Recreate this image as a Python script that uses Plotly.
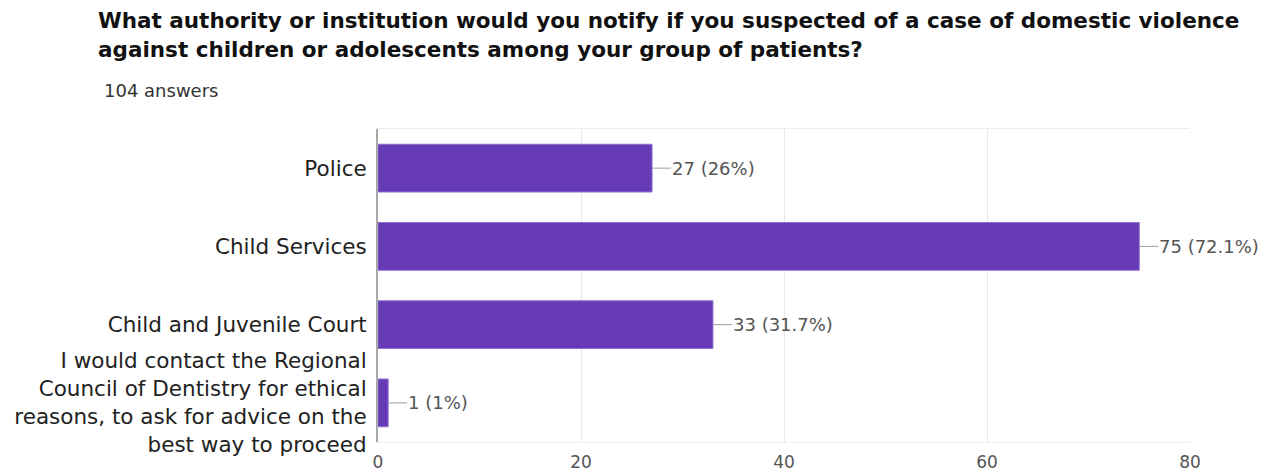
import plotly.graph_objects as go

categories = [
    "Police",
    "Child Services",
    "Child and Juvenile Court",
    "I would contact the Regional<br>Council of Dentistry for ethical<br>reasons, to ask for advice on the<br>best way to proceed",
]
counts = [27, 75, 33, 1]
total_answers = 104
x_ticks = [0, 20, 40, 60, 80]
title_lines = [
    "What authority or institution would you notify if you suspected of a case of domestic violence",
    "against children or adolescents among your group of patients?",
]
subtitle = f"{total_answers} answers"

labels = [f"{c} ({round(c / total_answers * 100, 1):g}%)" for c in counts]

W, H = 1268, 472
L, R, T, B = 378, 78, 129, 30
pw, ph = W - L - R, H - T - B

def px_x(px):
    return (px - L) / pw

def px_y(py):
    return (H - B - py) / ph

FONT = "DejaVu Sans, sans-serif"

fig = go.Figure(
    go.Bar(
        x=counts,
        y=categories,
        orientation="h",
        marker=dict(color="#673ab7", line=dict(color="#8f6fd0", width=1)),
        width=0.61,
        hoverinfo="skip",
    )
)

annotations = []
for c, cat, lab in zip(counts, categories, labels):
    annotations.append(
        dict(
            x=c, y=cat, xref="x", yref="y",
            text=lab, showarrow=True, arrowhead=0, arrowwidth=1,
            arrowcolor="#9e9e9e", ax=19, ay=0, xanchor="left",
            font=dict(family=FONT, size=18, color="#555555"),
            borderpad=0,
        )
    )

annotations.append(dict(
    x=px_x(96), y=px_y(21), xref="paper", yref="paper", text=f"<b>{title_lines[0]}</b>",
    showarrow=False, xanchor="left", yanchor="middle",
    font=dict(family=FONT, size=21.5, color="#111111"),
))
annotations.append(dict(
    x=px_x(96), y=px_y(50), xref="paper", yref="paper", text=f"<b>{title_lines[1]}</b>",
    showarrow=False, xanchor="left", yanchor="middle",
    font=dict(family=FONT, size=21.5, color="#111111"),
))
annotations.append(dict(
    x=px_x(102), y=px_y(90), xref="paper", yref="paper", text=subtitle,
    showarrow=False, xanchor="left", yanchor="middle",
    font=dict(family=FONT, size=18, color="#333333"),
))

fig.update_layout(
    width=W, height=H,
    margin=dict(l=L, r=R, t=T, b=B, pad=0, autoexpand=False),
    paper_bgcolor="white", plot_bgcolor="white",
    showlegend=False,
    annotations=annotations,
    font=dict(family=FONT),
)

fig.update_xaxes(
    range=[0, 80], tickvals=x_ticks, ticktext=[str(t) for t in x_ticks],
    showgrid=True, gridcolor="#e8e8e8", gridwidth=1,
    zeroline=False, showline=True, linecolor="#ececec", linewidth=1, mirror=True,
    tickfont=dict(family=FONT, size=17, color="#555555"),
    ticks="", ticklabelstandoff=5, fixedrange=True, automargin=False,
)
fig.update_yaxes(
    categoryorder="array", categoryarray=categories, autorange="reversed",
    showgrid=False, zeroline=False, showline=True, linecolor="#a8a8a8", linewidth=2,
    tickfont=dict(family=FONT, size=21.5, color="#222222"),
    ticks="", ticklabelstandoff=5, fixedrange=True, automargin=False,
)

fig.write_html("out.html")
